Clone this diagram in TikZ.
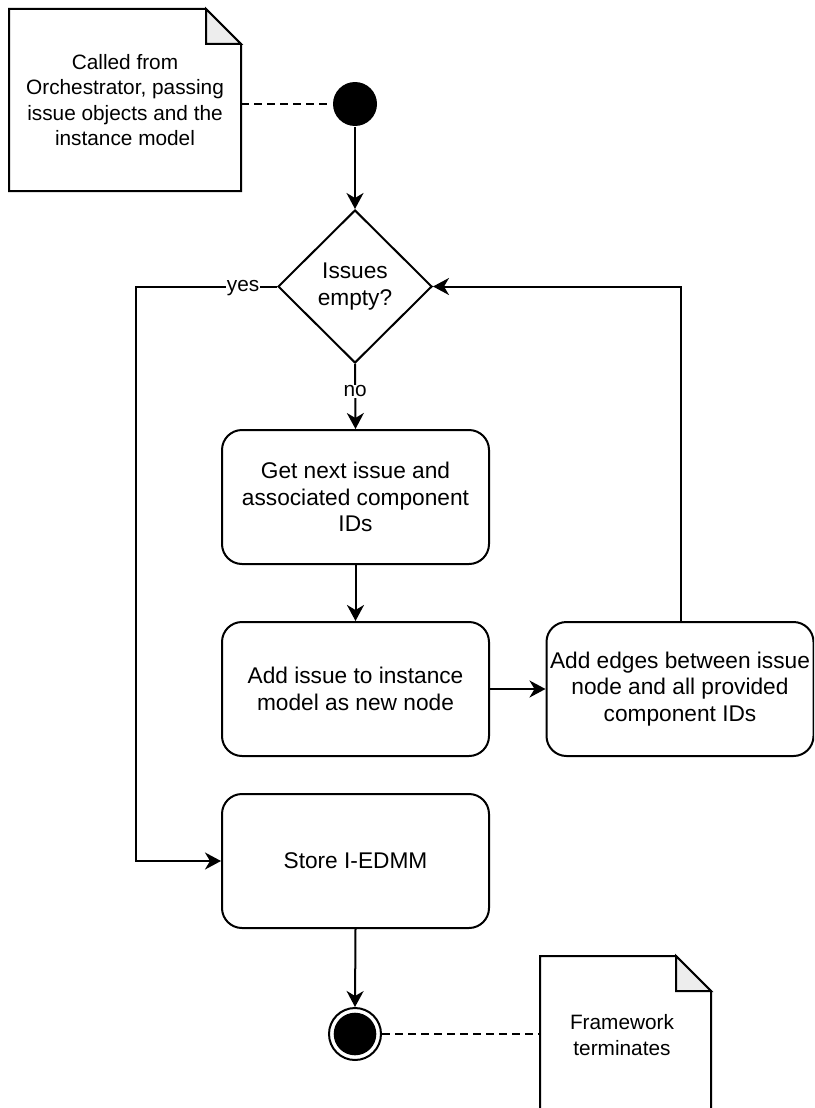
\documentclass[tikz,border=0pt]{standalone}
\usepackage{fontspec}
\setmainfont{Liberation Sans}
\usetikzlibrary{arrows.meta,shapes.geometric}

\tikzset{
  flow/.style={-{Stealth[length=16pt,width=17pt,inset=5pt]}},
  link/.style={dash pattern=on 7.5pt off 5.5pt},
  actbox/.style={draw, rounded corners=20pt, minimum width=267pt, minimum height=134pt,
    align=center, inner sep=0pt, font=\fontsize{22.7}{26.5}\selectfont},
  decision/.style={draw, diamond, minimum width=154pt, minimum height=153pt, inner sep=0pt,
    align=center, font=\fontsize{22.7}{26.5}\selectfont},
  notebox/.style={inner sep=0pt, align=center, font=\fontsize{20.8}{25.5}\selectfont},
  lbl/.style={fill=white, inner sep=1pt, font=\fontsize{20.8}{24}\selectfont},
  startdot/.style={circle, fill=black, draw=none, minimum size=44pt, inner sep=0pt},
  enddot/.style={circle, draw, fill=white, minimum size=52pt, inner sep=0pt,
    path picture={\fill[black] (path picture bounding box.center) circle[radius=21.3pt];}},
}

\begin{document}
\begin{tikzpicture}[x=1pt, y=-1pt, line width=2pt]
\useasboundingbox (0,0) rectangle (814,1108);
\clip (0,0) rectangle (814,1108);

% notes with folded corner
\node[notebox, minimum width=230pt, minimum height=180pt] (n1) at (125,100)
  {Called from\\Orchestrator, passing\\issue objects and the\\instance model};
\node[notebox, minimum width=169pt, minimum height=156pt] (n2) at (625.5,1035)
  {\hspace*{-7pt}Framework\\\hspace*{-7pt}terminates};
\foreach \n in {n1,n2}{
  \draw[line join=miter] (\n.north west) -- ([xshift=-35pt]\n.north east)
    -- ([yshift=-35pt]\n.north east) -- (\n.south east) -- (\n.south west) -- cycle;
  \draw[fill=black!7, line join=miter] ([xshift=-35pt]\n.north east)
    -- ([xshift=-35pt,yshift=-35pt]\n.north east) -- ([yshift=-35pt]\n.north east) -- cycle;
}

% activity nodes
\node[startdot] (start) at (355,104) {};
\node[decision] (dec) at (355,286.5) {Issues\\empty?};
\node[actbox] (get) at (355.5,497) {Get next issue and\\associated component\\IDs};
\node[actbox] (add) at (355.5,689) {Add issue to instance\\model as new node};
\node[actbox] (edges) at (680,689) {Add edges between issue\\node and all provided\\component IDs};
\node[actbox] (store) at (355.5,861) {Store I-EDMM};
\node[enddot] (stop) at (355,1034) {};

\coordinate (yesbend) at (136,286.5);
\coordinate (loopbend) at (681,286.5);

% connectors
\draw[link] (n1.east |- start) -- (start.west);
\draw[link] (stop.east) -- (n2.west |- stop);
\draw[flow] (start.south) -- (dec.north);
\draw[flow] (dec.south) -- node[lbl, pos=0.42] {no} (get.north);
\draw[flow] (get.south) -- (add.north);
\draw[flow] (add.east) -- (edges.west);
\draw[flow] (edges.north -| loopbend) -- (loopbend) -- (dec.east);
\draw[flow] (dec.west) -- node[lbl, pos=0.24, yshift=-2pt] {yes} (yesbend) |- (store.west);
\draw[flow] (store.south) -- (stop.north);
\end{tikzpicture}
\end{document}
